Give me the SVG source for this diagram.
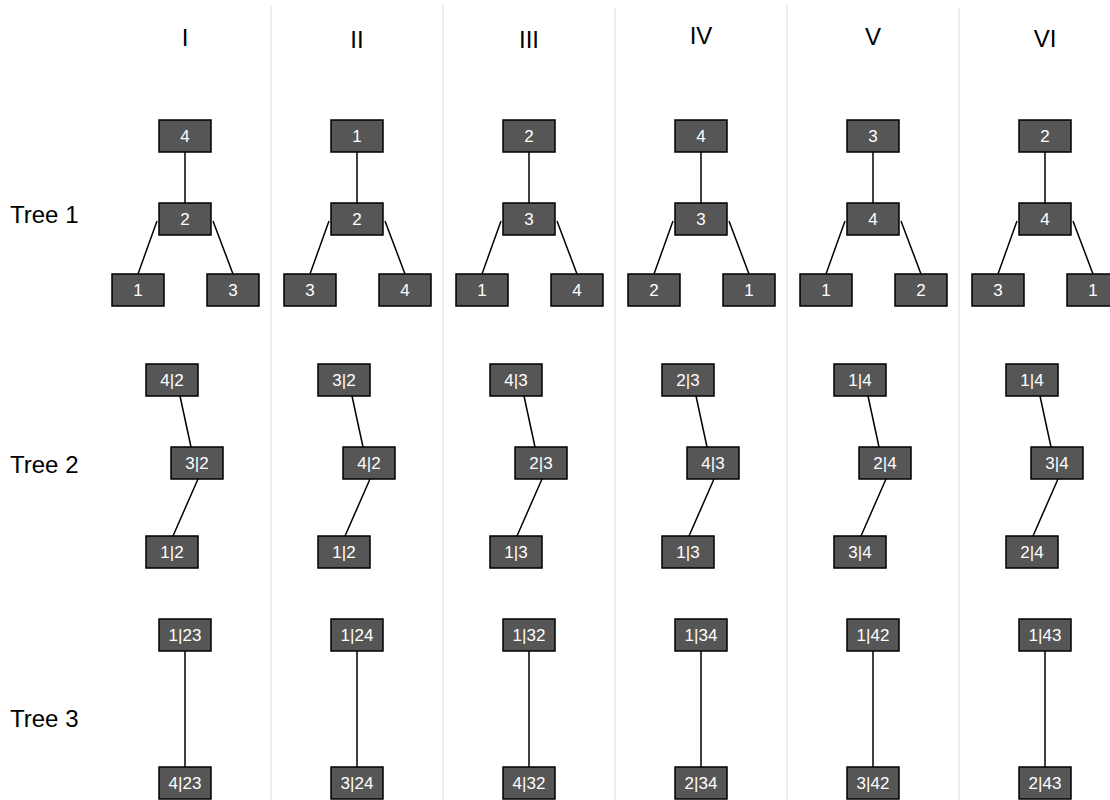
<svg xmlns="http://www.w3.org/2000/svg" width="1110" height="800" viewBox="0 0 1110 800">
<style>
.sep{stroke:#f0eee4;stroke-width:2;fill:none}
.n rect{fill:#565656;stroke:#000;stroke-width:1.5}
.n text{fill:#fff;font-family:"Liberation Sans",Arial,sans-serif;font-size:17px;text-anchor:middle}
.e path{stroke:#000;stroke-width:1.5;fill:none}
.h{font-family:"Liberation Sans",Arial,sans-serif;font-size:24px;fill:#000;text-anchor:middle}
.lbl{font-family:"Liberation Sans",Arial,sans-serif;font-size:24px;fill:#000}
</style>
<rect width="1110" height="800" fill="#fff"/>
<g id="separators">
<path class="sep" d="M271 5V800M443 5V800M615 8V800M787 5V800M959 8V800"/>
</g>
<g id="headers">
<text class="h" x="185" y="46">I</text>
<text class="h" x="357" y="48">II</text>
<text class="h" x="529" y="48">III</text>
<text class="h" x="701" y="44">IV</text>
<text class="h" x="873" y="45">V</text>
<text class="h" x="1045" y="47">VI</text>
</g>
<g id="rowlabels">
<text class="lbl" x="10" y="223">Tree 1</text>
<text class="lbl" x="10" y="473">Tree 2</text>
<text class="lbl" x="10" y="727">Tree 3</text>
</g>
<g id="connectors" class="e">
<path d="M185 152V203M157 221L138 274M213 221L233 274M180 396L191 447M198 479L173 536M185 651V767"/>
<path d="M357 152V203M329 221L310 274M385 221L405 274M352 396L363 447M370 479L345 536M357 651V767"/>
<path d="M529 152V203M501 221L482 274M557 221L577 274M524 396L535 447M542 479L517 536M529 651V767"/>
<path d="M701 152V203M673 221L654 274M729 221L749 274M696 396L707 447M714 479L689 536M701 651V767"/>
<path d="M873 152V203M845 221L826 274M901 221L921 274M868 396L879 447M886 479L861 536M873 651V767"/>
<path d="M1045 152V203M1017 221L998 274M1073 221L1093 274M1040 396L1051 447M1058 479L1033 536M1045 651V767"/>
</g>
<!-- Column I -->
<g id="c1t1a" class="n"><rect x="159" y="120" width="52" height="32"/><text x="185" y="142">4</text></g>
<g id="c1t1b" class="n"><rect x="159" y="203" width="52" height="32"/><text x="185" y="225">2</text></g>
<g id="c1t1c" class="n"><rect x="112" y="274" width="52" height="32"/><text x="138" y="296">1</text></g>
<g id="c1t1d" class="n"><rect x="207" y="274" width="52" height="32"/><text x="233" y="296">3</text></g>
<g id="c1t2a" class="n"><rect x="146" y="364" width="52" height="32"/><text x="172" y="386">4|2</text></g>
<g id="c1t2b" class="n"><rect x="171" y="447" width="52" height="32"/><text x="197" y="469">3|2</text></g>
<g id="c1t2c" class="n"><rect x="146" y="536" width="52" height="32"/><text x="172" y="558">1|2</text></g>
<g id="c1t3a" class="n"><rect x="159" y="619" width="52" height="32"/><text x="185" y="641">1|23</text></g>
<g id="c1t3b" class="n"><rect x="159" y="767" width="52" height="32"/><text x="185" y="789">4|23</text></g>
<!-- Column II -->
<g id="c2t1a" class="n"><rect x="331" y="120" width="52" height="32"/><text x="357" y="142">1</text></g>
<g id="c2t1b" class="n"><rect x="331" y="203" width="52" height="32"/><text x="357" y="225">2</text></g>
<g id="c2t1c" class="n"><rect x="284" y="274" width="52" height="32"/><text x="310" y="296">3</text></g>
<g id="c2t1d" class="n"><rect x="379" y="274" width="52" height="32"/><text x="405" y="296">4</text></g>
<g id="c2t2a" class="n"><rect x="318" y="364" width="52" height="32"/><text x="344" y="386">3|2</text></g>
<g id="c2t2b" class="n"><rect x="343" y="447" width="52" height="32"/><text x="369" y="469">4|2</text></g>
<g id="c2t2c" class="n"><rect x="318" y="536" width="52" height="32"/><text x="344" y="558">1|2</text></g>
<g id="c2t3a" class="n"><rect x="331" y="619" width="52" height="32"/><text x="357" y="641">1|24</text></g>
<g id="c2t3b" class="n"><rect x="331" y="767" width="52" height="32"/><text x="357" y="789">3|24</text></g>
<!-- Column III -->
<g id="c3t1a" class="n"><rect x="503" y="120" width="52" height="32"/><text x="529" y="142">2</text></g>
<g id="c3t1b" class="n"><rect x="503" y="203" width="52" height="32"/><text x="529" y="225">3</text></g>
<g id="c3t1c" class="n"><rect x="456" y="274" width="52" height="32"/><text x="482" y="296">1</text></g>
<g id="c3t1d" class="n"><rect x="551" y="274" width="52" height="32"/><text x="577" y="296">4</text></g>
<g id="c3t2a" class="n"><rect x="490" y="364" width="52" height="32"/><text x="516" y="386">4|3</text></g>
<g id="c3t2b" class="n"><rect x="515" y="447" width="52" height="32"/><text x="541" y="469">2|3</text></g>
<g id="c3t2c" class="n"><rect x="490" y="536" width="52" height="32"/><text x="516" y="558">1|3</text></g>
<g id="c3t3a" class="n"><rect x="503" y="619" width="52" height="32"/><text x="529" y="641">1|32</text></g>
<g id="c3t3b" class="n"><rect x="503" y="767" width="52" height="32"/><text x="529" y="789">4|32</text></g>
<!-- Column IV -->
<g id="c4t1a" class="n"><rect x="675" y="120" width="52" height="32"/><text x="701" y="142">4</text></g>
<g id="c4t1b" class="n"><rect x="675" y="203" width="52" height="32"/><text x="701" y="225">3</text></g>
<g id="c4t1c" class="n"><rect x="628" y="274" width="52" height="32"/><text x="654" y="296">2</text></g>
<g id="c4t1d" class="n"><rect x="723" y="274" width="52" height="32"/><text x="749" y="296">1</text></g>
<g id="c4t2a" class="n"><rect x="662" y="364" width="52" height="32"/><text x="688" y="386">2|3</text></g>
<g id="c4t2b" class="n"><rect x="687" y="447" width="52" height="32"/><text x="713" y="469">4|3</text></g>
<g id="c4t2c" class="n"><rect x="662" y="536" width="52" height="32"/><text x="688" y="558">1|3</text></g>
<g id="c4t3a" class="n"><rect x="675" y="619" width="52" height="32"/><text x="701" y="641">1|34</text></g>
<g id="c4t3b" class="n"><rect x="675" y="767" width="52" height="32"/><text x="701" y="789">2|34</text></g>
<!-- Column V -->
<g id="c5t1a" class="n"><rect x="847" y="120" width="52" height="32"/><text x="873" y="142">3</text></g>
<g id="c5t1b" class="n"><rect x="847" y="203" width="52" height="32"/><text x="873" y="225">4</text></g>
<g id="c5t1c" class="n"><rect x="800" y="274" width="52" height="32"/><text x="826" y="296">1</text></g>
<g id="c5t1d" class="n"><rect x="895" y="274" width="52" height="32"/><text x="921" y="296">2</text></g>
<g id="c5t2a" class="n"><rect x="834" y="364" width="52" height="32"/><text x="860" y="386">1|4</text></g>
<g id="c5t2b" class="n"><rect x="859" y="447" width="52" height="32"/><text x="885" y="469">2|4</text></g>
<g id="c5t2c" class="n"><rect x="834" y="536" width="52" height="32"/><text x="860" y="558">3|4</text></g>
<g id="c5t3a" class="n"><rect x="847" y="619" width="52" height="32"/><text x="873" y="641">1|42</text></g>
<g id="c5t3b" class="n"><rect x="847" y="767" width="52" height="32"/><text x="873" y="789">3|42</text></g>
<!-- Column VI -->
<g id="c6t1a" class="n"><rect x="1019" y="120" width="52" height="32"/><text x="1045" y="142">2</text></g>
<g id="c6t1b" class="n"><rect x="1019" y="203" width="52" height="32"/><text x="1045" y="225">4</text></g>
<g id="c6t1c" class="n"><rect x="972" y="274" width="52" height="32"/><text x="998" y="296">3</text></g>
<g id="c6t1d" class="n"><rect x="1067" y="274" width="52" height="32"/><text x="1093" y="296">1</text></g>
<g id="c6t2a" class="n"><rect x="1006" y="364" width="52" height="32"/><text x="1032" y="386">1|4</text></g>
<g id="c6t2b" class="n"><rect x="1031" y="447" width="52" height="32"/><text x="1057" y="469">3|4</text></g>
<g id="c6t2c" class="n"><rect x="1006" y="536" width="52" height="32"/><text x="1032" y="558">2|4</text></g>
<g id="c6t3a" class="n"><rect x="1019" y="619" width="52" height="32"/><text x="1045" y="641">1|43</text></g>
<g id="c6t3b" class="n"><rect x="1019" y="767" width="52" height="32"/><text x="1045" y="789">2|43</text></g>
</svg>
